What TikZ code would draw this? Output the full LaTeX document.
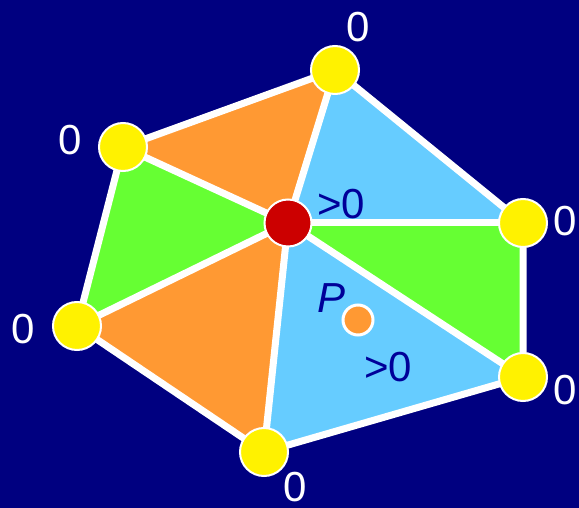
\documentclass[tikz,border=0pt]{standalone}
\usepackage{fontspec}
\setmainfont{Liberation Sans}
\usetikzlibrary{backgrounds}
\definecolor{navy}{HTML}{000080}
\definecolor{inkblue}{HTML}{000099}
\definecolor{skyfill}{HTML}{66CCFF}
\definecolor{grassfill}{HTML}{66FF33}
\definecolor{tanfill}{HTML}{FF9933}
\definecolor{hubred}{HTML}{CC0000}
\tikzset{
    vertex/.style={circle, draw=white, line width=2pt, fill=yellow, minimum size=48pt, inner sep=0pt},
    hub/.style={vertex, fill=hubred, minimum size=47pt},
    probe/.style={circle, draw=white, line width=3pt, fill=tanfill, minimum size=30pt, inner sep=0pt},
    zero/.style={text=white, font=\fontsize{42}{48}\selectfont},
    sign/.style={text=inkblue, font=\fontsize{42}{48}\selectfont},
    edge/.style={white, line width=7pt}
}

\begin{document}
\begin{tikzpicture}[x=1pt, y=-1pt]
\useasboundingbox (0,0) rectangle (579,508);
% mesh vertices
\node[hub] (hub) at (288,223) {};
\node[vertex] (top) at (335,70) {};
\node[vertex] (right) at (523,223) {};
\node[vertex] (lowright) at (523,377) {};
\node[vertex] (bottom) at (264,452) {};
\node[vertex] (left) at (77,326) {};
\node[vertex] (upleft) at (123,147) {};
\node[probe] (p) at (358,320) {};
% labels
\node[zero] (ztop) at (358,27) {0};
\node[zero] (zright) at (565,221) {0};
\node[zero] (zlowright) at (565,390) {0};
\node[zero] (zbottom) at (295,487) {0};
\node[zero] (zleft) at (23,329) {0};
\node[zero] (zupleft) at (70,140) {0};
\node[sign] (shub) at (341,204) {>0};
\node[sign] (sp) at (388,367) {>0};
\node[sign, font=\fontsize{42}{48}\selectfont\itshape] (pname) at (332,298) {P};
\begin{scope}[on background layer]
\fill[navy] (0,0) rectangle (579,508);
% triangle fan
\fill[skyfill] (hub.center) -- (top.center) -- (right.center) -- cycle;
\fill[grassfill] (hub.center) -- (right.center) -- (lowright.center) -- cycle;
\fill[skyfill] (hub.center) -- (lowright.center) -- (bottom.center) -- cycle;
\fill[tanfill] (hub.center) -- (bottom.center) -- (left.center) -- cycle;
\fill[grassfill] (hub.center) -- (left.center) -- (upleft.center) -- cycle;
\fill[tanfill] (hub.center) -- (upleft.center) -- (top.center) -- cycle;
\foreach \v in {top, right, lowright, bottom, left, upleft}
    \draw[edge] (hub.center) -- (\v.center);
\draw[edge] (top.center) -- (right.center) -- (lowright.center) -- (bottom.center) -- (left.center) -- (upleft.center) -- cycle;
\end{scope}
\end{tikzpicture}
\end{document}
